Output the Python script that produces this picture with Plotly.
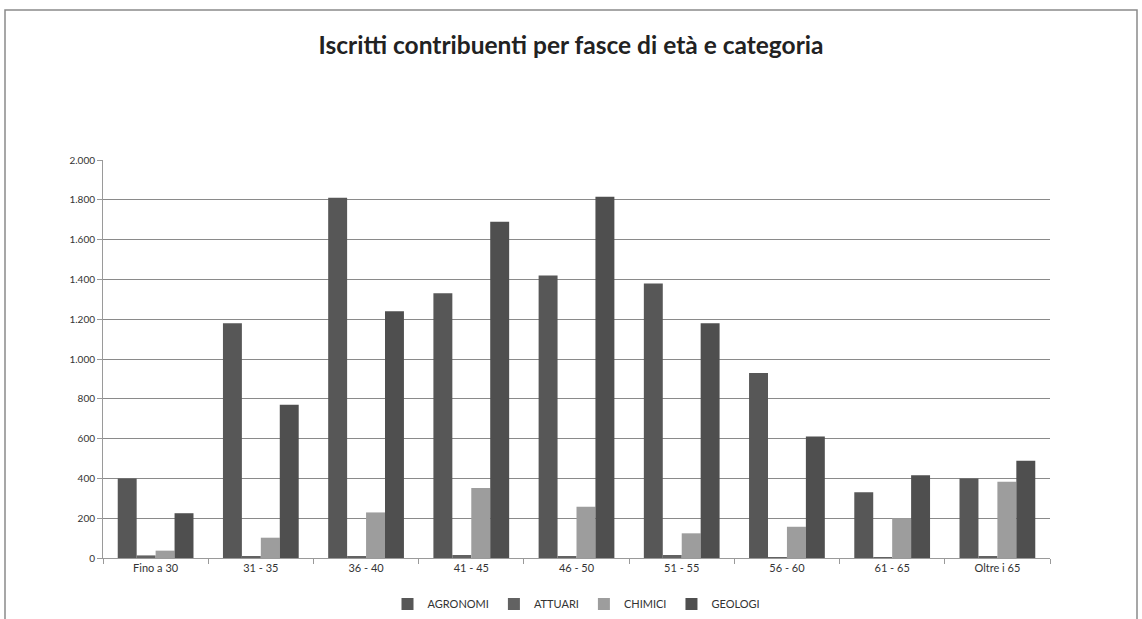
import plotly.graph_objects as go

categories = ["Fino a 30", "31 - 35", "36 - 40", "41 - 45", "46 - 50", "51 - 55", "56 - 60", "61 - 65", "Oltre i 65"]
agronomi = [400, 1180, 1810, 1330, 1420, 1380, 930, 330, 400]
attuari = [13, 10, 10, 15, 10, 15, 2, 5, 8]
chimici = [37, 102, 229, 352, 257, 124, 157, 200, 383]
geologi = [225, 770, 1240, 1690, 1815, 1180, 611, 416, 489]

series = [
    ("AGRONOMI", agronomi, "#575757"),
    ("ATTUARI", attuari, "#626262"),
    ("CHIMICI", chimici, "#9d9d9d"),
    ("GEOLOGI", geologi, "#4f4f4f"),
]

fig = go.Figure()
for name, vals, col in series:
    fig.add_trace(go.Bar(x=categories, y=vals, name=name, marker=dict(color=col, line=dict(width=0))))

W, H = 1142, 619
L, R, T, B = 103, 92, 160, 61
pw = W - L - R
ph = H - T - B

def px_x(x):
    return (x - L) / pw

def px_y(y):
    return (H - B - y) / ph

fig.update_layout(
    width=W, height=H,
    margin=dict(l=L, r=R, t=T, b=B, autoexpand=False),
    paper_bgcolor="white", plot_bgcolor="white",
    separators=",.",
    barmode="group", bargap=0.28, bargroupgap=0,
    font=dict(family="Lato, 'Open Sans', sans-serif", color="#333333", size=11),
    title=dict(text="<b>Iscritti contribuenti per fasce di età e categoria</b>",
               x=0.5, xanchor="center", y=1 - 45 / H, yanchor="middle", yref="container",
               font=dict(size=24.5, color="#222222", family="Lato, 'Open Sans', sans-serif")),
    legend=dict(orientation="h", x=0.5, xanchor="center", y=px_y(604), yanchor="middle",
                font=dict(size=11, color="#333333"), itemwidth=30, traceorder="normal"),
    xaxis=dict(type="category", showgrid=False, showline=True, linecolor="#9a9a9a", linewidth=1,
               ticks="outside", tickson="boundaries", ticklen=5, tickcolor="#9a9a9a",
               tickfont=dict(size=11, color="#333333")),
    yaxis=dict(range=[0, 2000], dtick=200, tickformat=",d", showgrid=True, gridcolor="#8a8a8a",
               gridwidth=1, showline=True, linecolor="#9a9a9a", linewidth=1, ticks="outside",
               ticklen=5, tickcolor="#9a9a9a", zeroline=False,
               tickfont=dict(size=10, color="#333333")),
)

# outer frame of the chart area
fig.add_shape(type="rect", xref="paper", yref="paper",
              x0=px_x(5), x1=px_x(1137), y0=px_y(625), y1=px_y(10),
              line=dict(color="#8a8a8a", width=1.5), layer="below")

fig.write_html("out.html", config={"displayModeBar": False},
               post_script="document.body.style.margin='0';")
